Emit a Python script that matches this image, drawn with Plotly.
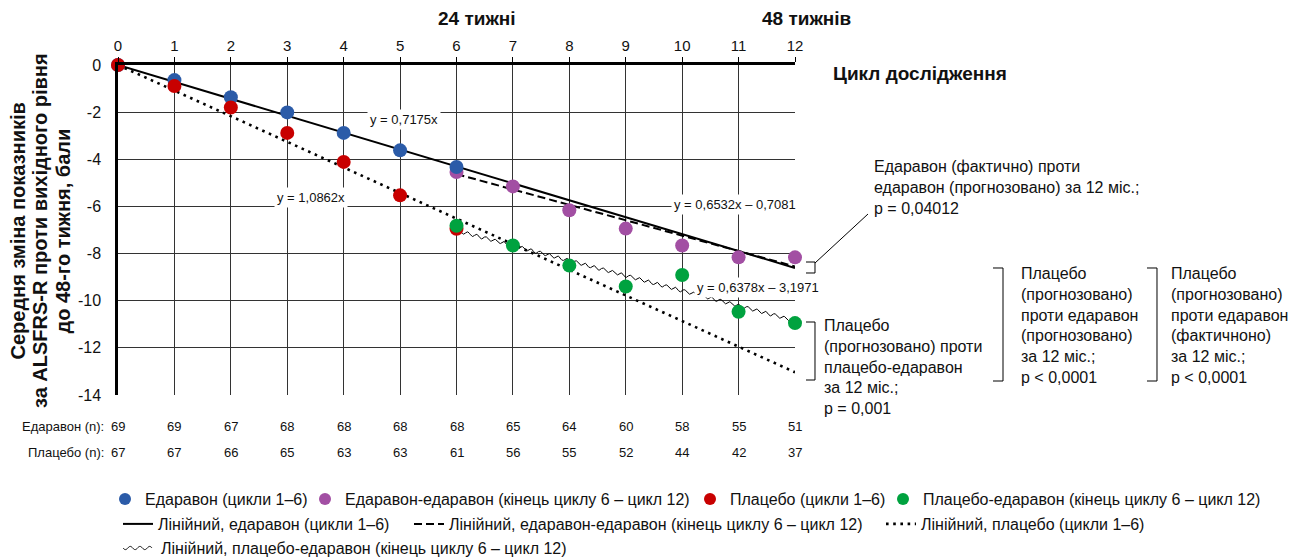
import numpy as np
import plotly.graph_objects as go

# ---------------- data ----------------
cycles = list(range(13))
cycles_1_6 = [0, 1, 2, 3, 4, 5, 6]
cycles_6_12 = [6, 7, 8, 9, 10, 11, 12]

edaravone_1_6 = [0.0, -0.64, -1.37, -2.01, -2.88, -3.62, -4.33]
placebo_1_6 = [0.0, -0.89, -1.80, -2.88, -4.11, -5.53, -6.95]
edaravone_edaravone = [-4.54, -5.15, -6.16, -6.94, -7.66, -8.16, -8.16]
placebo_edaravone = [-6.82, -7.66, -8.51, -9.40, -8.91, -10.47, -10.95]

# linear fits as printed on the chart: (slope, intercept)
fit_edaravone = (-0.7175, 0.0)
fit_placebo = (-1.0862, 0.0)
fit_edaravone_edaravone = (-0.6532, -0.7081)
fit_placebo_edaravone = (-0.6378, -3.1971)

n_edaravone = [69, 69, 67, 68, 68, 68, 68, 65, 64, 60, 58, 55, 51]
n_placebo = [67, 67, 66, 65, 63, 63, 61, 56, 55, 52, 44, 42, 37]

y_ticks = [0, -2, -4, -6, -8, -10, -12, -14]
y_ticktext = ["0", "-2", "-4", "-6", "-8", "-10", "-12", "-14"]

# ---------------- style ----------------
FONT = "Liberation Sans, Arial, sans-serif"
BLUE = "#2B5BA8"
PURPLE = "#A24FA3"
RED = "#C80000"
GREEN = "#00A23F"
GRID = "#333333"
TXT = "#111"

# page body has an 8px margin, so the figure is shrunk and shifted by it
OFF = 8
W, H = 1303 - OFF, 560 - OFF
PLOT_L, PLOT_R, PLOT_T, PLOT_B = 118, 795, 65, 395  # plot area in page pixels
ML, MT = PLOT_L - OFF, PLOT_T - OFF
PW, PH = PLOT_R - PLOT_L, PLOT_B - PLOT_T
MR, MB = W - ML - PW, H - MT - PH


def px(xp):
    return (xp - PLOT_L) / PW


def py(yp):
    return (PLOT_B - yp) / PH


def fit_line(fit, xs):
    xs = np.asarray(xs, dtype=float)
    return xs, fit[0] * xs + fit[1]


fig = go.Figure()

# ---------------- trend lines ----------------
x, y = fit_line(fit_edaravone, [cycles[0], cycles[-1]])
fig.add_trace(go.Scatter(x=x, y=y, mode="lines", name="Лінійний, едаравон (цикли 1–6)",
                         line=dict(color="black", width=2), legend="legend5"))
x, y = fit_line(fit_edaravone_edaravone, [cycles_6_12[0], cycles_6_12[-1]])
fig.add_trace(go.Scatter(x=x, y=y, mode="lines",
                         name="Лінійний, едаравон-едаравон (кінець циклу 6 – цикл 12)",
                         line=dict(color="black", width=2, dash="8px,4px"), legend="legend6"))
x, y = fit_line(fit_placebo, [cycles[0], cycles[-1]])
fig.add_trace(go.Scatter(x=x, y=y, mode="lines", name="Лінійний, плацебо (цикли 1–6)",
                         line=dict(color="black", width=2.6, dash="2.6px,4.6px"), legend="legend7"))

# wavy rendering of the placebo-edaravone trend line (the wave is only its line style)
WAVE_AMP, WAVE_PERIOD = 0.07, 0.16
xw = np.linspace(cycles_6_12[0], cycles_6_12[-1], 800)
_, yw = fit_line(fit_placebo_edaravone, xw)
yw = yw + WAVE_AMP * np.sin(2 * np.pi * (xw - xw[0]) / WAVE_PERIOD)
fig.add_trace(go.Scatter(x=xw, y=yw, mode="lines", showlegend=False,
                         line=dict(color="black", width=1)))

# ---------------- points ----------------
fig.add_trace(go.Scatter(x=cycles_6_12, y=edaravone_edaravone, mode="markers",
                         name="Едаравон-едаравон (кінець циклу 6 – цикл 12)",
                         marker=dict(color=PURPLE, size=14), cliponaxis=False, legend="legend2"))
fig.add_trace(go.Scatter(x=cycles_1_6, y=edaravone_1_6, mode="markers",
                         name="Едаравон (цикли 1–6)",
                         marker=dict(color=BLUE, size=14), cliponaxis=False, legend="legend"))
fig.add_trace(go.Scatter(x=cycles_1_6, y=placebo_1_6, mode="markers",
                         name="Плацебо (цикли 1–6)",
                         marker=dict(color=RED, size=14), cliponaxis=False, legend="legend3"))
fig.add_trace(go.Scatter(x=cycles_6_12, y=placebo_edaravone, mode="markers",
                         name="Плацебо-едаравон (кінець циклу 6 – цикл 12)",
                         marker=dict(color=GREEN, size=14), cliponaxis=False, legend="legend4"))


# ---------------- legends ----------------
def leg(text_xp, yp, constant):
    # plotly puts the item text 40px right of the legend's left edge
    return dict(x=px(text_xp - 40), y=py(yp), xanchor="left", yanchor="middle", orientation="h",
                bgcolor="rgba(0,0,0,0)", borderwidth=0,
                font=dict(family=FONT, size=16, color=TXT),
                itemsizing="constant" if constant else "trace", itemwidth=30)


ROW1, ROW2, ROW3 = 499, 524, 548

# ---------------- annotations ----------------
ann = []


def text(t, xp, yp, size=16, bold=False, xanchor="left", yanchor="middle", align="left", **kw):
    if bold:
        t = "<b>" + t + "</b>"
    d = dict(text=t, x=px(xp), y=py(yp), xref="paper", yref="paper", showarrow=False,
             xanchor=xanchor, yanchor=yanchor, align=align,
             font=dict(family=FONT, size=size, color=TXT))
    d.update(kw)
    ann.append(d)


text("24 тижні", 477, 18, size=19, bold=True, xanchor="center")
text("48 тижнів", 806, 18, size=19, bold=True, xanchor="center")
text("Цикл дослідження", 831, 73, size=19, bold=True)

# y-axis title, one annotation per line for tight leading
for line, xc in [("Середня зміна показників", 17.5),
                 ("за ALSFRS-R проти вихідного рівня", 40),
                 ("до 48-го тижня, бали", 62.5)]:
    text(line, xc, 231, size=20, bold=True, xanchor="center", align="center", textangle=-90)

# regression equations
for t, xc, yc in [("y = 0,7175x", 404, 119), ("y = 1,0862x", 311, 197),
                  ("y = 0,6532x – 0,7081", 735, 205), ("y = 0,6378x – 3,1971", 758, 287)]:
    text(t, xc, yc, size=13, xanchor="center", align="center", bgcolor="white", borderpad=2)

# callouts
text("Едаравон (фактично) проти<br>едаравон (прогнозовано) за 12 міс.;<br>p = 0,04012",
     872, 187, size=16)
text("Плацебо<br>(прогнозовано) проти<br>плацебо-едаравон<br>за 12 міс.;<br>p = 0,001",
     822, 367, size=16)
text("Плацебо<br>(прогнозовано)<br>проти едаравон<br>(прогнозовано)<br>за 12 міс.;<br>p < 0,0001",
     1019, 325, size=16)
text("Плацебо<br>(прогнозовано)<br>проти едаравон<br>(фактичноно)<br>за 12 міс.;<br>p < 0,0001",
     1169, 325, size=16)

# patient numbers
text("Едаравон (n):", 106, 426, size=13, xanchor="right")
text("Плацебо (n):", 106, 452, size=13, xanchor="right")
for c, ne, npl in zip(cycles, n_edaravone, n_placebo):
    for val, yp in [(ne, 426), (npl, 452)]:
        ann.append(dict(text=str(val), x=c, y=py(yp), xref="x", yref="paper", showarrow=False,
                        xanchor="center", yanchor="middle",
                        font=dict(family=FONT, size=13, color=TXT)))

# manual legend row for the wavy line
text("Лінійний, плацебо-едаравон (кінець циклу 6 – цикл 12)", 159, ROW3, size=16)

# ---------------- shapes ----------------
shapes = []


def path(points):
    s = "M " + " L ".join(f"{px(a):.5f},{py(b):.5f}" for a, b in points)
    shapes.append(dict(type="path", path=s, xref="paper", yref="paper",
                       line=dict(color="black", width=1)))


path([(806, 262), (815, 262), (815, 273), (806, 273)])
path([(815, 263), (868, 214)])
path([(806, 322), (815, 322), (815, 380), (806, 380)])
path([(993, 268), (1003, 268), (1003, 381), (993, 381)])
path([(1147, 268), (1157, 268), (1157, 381), (1147, 381)])

# wavy legend symbol
wx = np.linspace(123, 152, 60)
wy = ROW3 + 1.6 * np.sin(2 * np.pi * (wx - 123) / 9.7)
path(list(zip(wx, wy)))

fig.update_layout(
    width=W, height=H,
    margin=dict(l=ML, r=MR, t=MT, b=MB, autoexpand=False),
    paper_bgcolor="white", plot_bgcolor="white",
    font=dict(family=FONT, size=15, color=TXT),
    xaxis=dict(range=[0, 12], side="top", tickmode="array", tickvals=cycles,
               ticks="outside", ticklen=5, tickwidth=1, tickcolor="black",
               showline=True, linewidth=2.5, linecolor="black",
               showgrid=True, gridcolor=GRID, gridwidth=1, zeroline=False,
               tickfont=dict(family=FONT, size=15, color=TXT), fixedrange=True),
    xaxis2=dict(range=[0, 12], overlaying="x", side="bottom", anchor="y", tickmode="array",
                tickvals=cycles, ticks="outside", ticklen=4, tickwidth=1, tickcolor=GRID,
                showticklabels=False, showgrid=False, showline=False, zeroline=False),
    yaxis=dict(range=[-14, 0], tickmode="array", tickvals=y_ticks, ticktext=y_ticktext,
               ticks="", ticklabelstandoff=11,
               showline=True, linewidth=2.5, linecolor="black",
               showgrid=True, gridcolor=GRID, gridwidth=1, zeroline=False,
               tickfont=dict(family=FONT, size=16, color=TXT), fixedrange=True),
    yaxis2=dict(range=[-14, 0], overlaying="y", side="right", anchor="x", tickmode="array",
                tickvals=y_ticks, ticks="outside", ticklen=5, tickwidth=1, tickcolor=GRID,
                showticklabels=False, showgrid=False, showline=False, zeroline=False),
    legend=leg(145, ROW1, True),
    legend2=leg(345, ROW1, True),
    legend3=leg(730, ROW1, True),
    legend4=leg(923, ROW1, True),
    legend5=leg(158, ROW2, False),
    legend6=leg(449, ROW2, False),
    legend7=leg(921, ROW2, False),
    annotations=ann,
    shapes=shapes,
)

fig.write_html("out.html")
